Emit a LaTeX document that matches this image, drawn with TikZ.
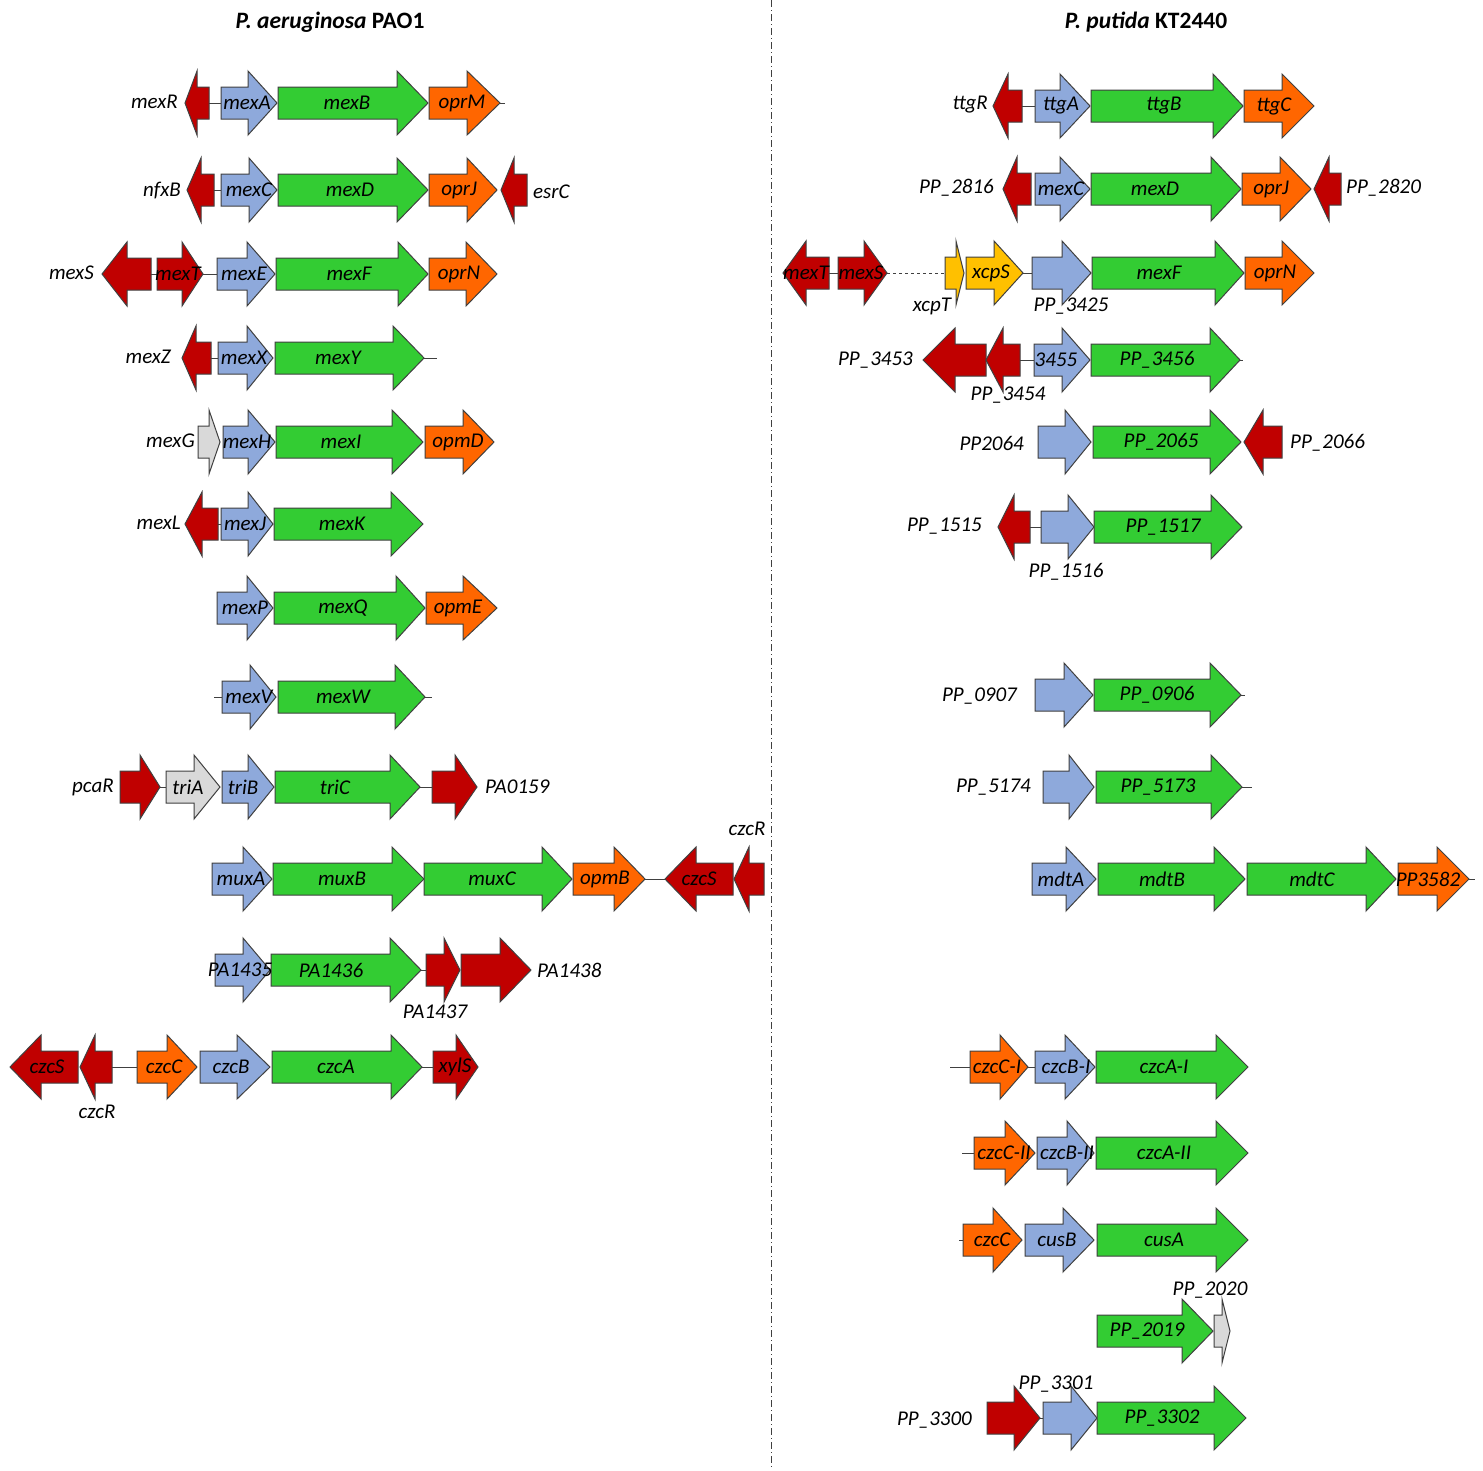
\documentclass[tikz,border=0pt]{standalone}
\usepackage{fontspec}
\setmainfont{Carlito}
\definecolor{gred}{HTML}{C00000}
\definecolor{gblue}{HTML}{8EA9DB}
\definecolor{ggreen}{HTML}{33CC33}
\definecolor{gorange}{HTML}{FF6600}
\definecolor{ggray}{HTML}{D9D9D9}
\definecolor{gyellow}{HTML}{FFC000}
\definecolor{edgec}{HTML}{404040}
\pgfdeclarelayer{fg}
\pgfsetlayers{main,fg}
\tikzset{
  genebox/.style={draw=edgec, line width=1pt, line join=miter},
  glabel/.style={font=\fontsize{21}{25}\selectfont\itshape, inner sep=0pt, text=black},
  link/.style={draw=edgec, line width=1pt},
  titlelbl/.style={font=\fontsize{23.5}{27}\selectfont\bfseries, inner sep=0pt},
  divider/.style={draw=edgec, line width=0.8pt, dash pattern=on 7pt off 3pt on 1pt off 3pt},
}
% shape only: tail, head base, tip, y, colour
\newcommand\gs[5]{%
  \filldraw[genebox, fill=#5] (#1,#4-16) -- (#2,#4-16) -- (#2,#4-32) -- (#3,#4) -- (#2,#4+32) -- (#2,#4+16) -- (#1,#4+16) -- cycle;}
% shape with inside label: id, tail, base, tip, y, colour, label x, label
\newcommand\gn[8]{%
  \gs{#2}{#3}{#4}{#5}{#6}%
  \begin{pgfonlayer}{fg}\node[glabel] (#1) at (#7,#5) {#8};\end{pgfonlayer}}
\begin{document}
\begin{tikzpicture}[x=1pt,y=-1pt]
\useasboundingbox (0,0) rectangle (1483,1470);
\fill[white] (0,0) rectangle (1483,1470);

% titles and divider
\node[titlelbl] (t1) at (330,22) {\textit{P. aeruginosa} PAO1};
\node[titlelbl] (t2) at (1146,22) {\textit{P. putida} KT2440};
\draw[divider] (771,0) -- (771,1470);

% ---------------- left side ----------------
% row 1
\draw[link] (209,103) -- (221,103); \draw[link] (500,103) -- (505,103);
\gs{209}{197}{185}{103}{gred}
\gn{mexA}{221}{248}{277}{103}{gblue}{247}{mexA}
\gn{mexB}{278}{397}{428}{103}{ggreen}{347}{mexB}
\gn{oprM}{429}{467}{500}{103}{gorange}{462}{oprM}
\node[glabel,anchor=east] (lmexR) at (178,102) {mexR};

% row 2
\draw[link] (214,190) -- (221,190);
\gs{214}{201}{187}{190}{gred}
\gn{mexC}{221}{249}{277}{190}{gblue}{249}{mexC}
\gn{mexD}{278}{397}{428}{190}{ggreen}{350}{mexD}
\gn{oprJ}{429}{467}{497}{190}{gorange}{459}{oprJ}
\gs{527}{514}{501}{190}{gred}
\node[glabel,anchor=east] (lnfxB) at (181,191) {nfxB};
\node[glabel,anchor=west] (lesrC) at (533,192) {esrC};

% row 3
\draw[link] (151,274) -- (157,274); \draw[link] (203,274) -- (217,274);
\gs{151}{127}{102}{274}{gred}
\gn{mexT}{157}{182}{203}{274}{gred}{178}{mexT}
\gn{mexE}{217}{247}{275}{274}{gblue}{244}{mexE}
\gn{mexF}{276}{398}{428}{274}{ggreen}{349}{mexF}
\gn{oprN}{429}{466}{497}{274}{gorange}{459}{oprN}
\node[glabel,anchor=east] (lmexS) at (94,273) {mexS};

% row 4
\draw[link] (211,358) -- (218,358); \draw[link] (424,358) -- (437,358);
\gs{211}{196}{182}{358}{gred}
\gn{mexX}{218}{247}{273}{358}{gblue}{244}{mexX}
\gn{mexY}{275}{393}{424}{358}{ggreen}{338}{mexY}
\node[glabel,anchor=east] (lmexZ) at (171,357) {mexZ};

% row 5
\gs{198}{209}{220}{442}{ggray}
\gn{mexH}{223}{248}{275}{442}{gblue}{247}{mexH}
\gn{mexI}{276}{392}{423}{442}{ggreen}{341}{mexI}
\gn{opmD}{425}{463}{494}{442}{gorange}{458}{opmD}
\node[glabel,anchor=east] (lmexG) at (195,441) {mexG};

% row 6
\draw[link] (218,524) -- (221,524);
\gs{218}{202}{185}{524}{gred}
\gn{mexJ}{221}{248}{273}{524}{gblue}{245}{mexJ}
\gn{mexK}{274}{391}{423}{524}{ggreen}{342}{mexK}
\node[glabel,anchor=east] (lmexL) at (181,523) {mexL};

% row 7
\gn{mexP}{217}{247}{273}{608}{gblue}{245}{mexP}
\gn{mexQ}{274}{396}{425}{608}{ggreen}{343}{mexQ}
\gn{opmE}{426}{463}{497}{608}{gorange}{458}{opmE}

% row 8
\draw[link] (214,697) -- (222,697); \draw[link] (425,697) -- (432,697);
\gn{mexV}{222}{250}{276}{697}{gblue}{249}{mexV}
\gn{mexW}{278}{395}{425}{697}{ggreen}{343}{mexW}

% row 9
\draw[link] (160,787) -- (166,787); \draw[link] (420,787) -- (432,787);
\gs{120}{140}{160}{787}{gred}
\gn{triA}{166}{194}{220}{787}{ggray}{188}{triA}
\gn{triB}{222}{248}{274}{787}{gblue}{243}{triB}
\gn{triC}{275}{390}{420}{787}{ggreen}{335}{triC}
\gs{432}{455}{477}{787}{gred}
\node[glabel,anchor=east] (lpcaR) at (114,787) {pcaR};
\node[glabel,anchor=west] (lPA0159) at (485,787) {PA0159};

% row 10
\draw[link] (645,879) -- (665,879);
\gn{muxA}{212}{243}{272}{879}{gblue}{241}{muxA}
\gn{muxB}{273}{392}{424}{879}{ggreen}{342}{muxB}
\gn{muxC}{424}{542}{572}{879}{ggreen}{492}{muxC}
\gn{opmB}{573}{614}{645}{879}{gorange}{605}{opmB}
\gn{czcSa}{733}{696}{665}{879}{gred}{699}{czcS}
\gs{764}{749}{734}{879}{gred}
\node[glabel] (lczcRa) at (747,829) {czcR};

% row 11
\draw[link] (421,970) -- (426,970);
\gn{PAa}{215}{243}{270}{970}{gblue}{240}{PA1435}
\gn{PAb}{271}{390}{421}{970}{ggreen}{331}{PA1436}
\gs{426}{444}{460}{970}{gred}
\gs{461}{500}{531}{970}{gred}
\node[glabel] (lPA1437) at (435,1012) {PA1437};
\node[glabel,anchor=west] (lPA1438) at (537,970) {PA1438};

% row 12
\draw[link] (112,1067) -- (137,1067); \draw[link] (422,1067) -- (433,1067);
\gn{czcSb}{78}{41}{10}{1067}{gred}{47}{czcS}
\gs{112}{95}{80}{1067}{gred}
\gn{czcC}{137}{167}{197}{1067}{gorange}{164}{czcC}
\gn{czcB}{200}{237}{270}{1067}{gblue}{231}{czcB}
\gn{czcA}{272}{391}{422}{1067}{ggreen}{336}{czcA}
\gn{xylS}{433}{456}{478}{1067}{gred}{455}{xylS}
\node[glabel] (lczcRb) at (97,1112) {czcR};

% ---------------- right side ----------------
% R1
\draw[link] (1022,106) -- (1035,106);
\gs{1022}{1008}{993}{106}{gred}
\gn{ttgA}{1035}{1060}{1090}{106}{gblue}{1061}{ttgA}
\gn{ttgB}{1091}{1213}{1243}{106}{ggreen}{1164}{ttgB}
\gn{ttgC}{1244}{1282}{1314}{106}{gorange}{1274}{ttgC}
\node[glabel,anchor=east] (lttgR) at (988,105) {ttgR};

% R2
\gs{1031}{1017}{1003}{189}{gred}
\gn{mexCp}{1035}{1060}{1090}{189}{gblue}{1061}{mexC}
\gn{mexDp}{1091}{1211}{1241}{189}{ggreen}{1155}{mexD}
\gn{oprJp}{1242}{1280}{1311}{189}{gorange}{1271}{oprJ}
\gs{1341}{1329}{1314}{189}{gred}
\node[glabel,anchor=east] (lPP2816) at (994,188) {PP\_2816};
\node[glabel,anchor=west] (lPP2820) at (1346,188) {PP\_2820};

% R3
\draw[link] (829,273) -- (838,273);
\draw[link,dashed] (887,273) -- (945,273);
\draw[link] (1023,273) -- (1032,273);
\gn{mexTp}{829}{806}{783}{273}{gred}{806}{mexT}
\gn{mexSp}{838}{864}{887}{273}{gred}{861}{mexS}
\gs{945}{956}{964}{273}{gyellow}
\gn{xcpS}{966}{994}{1023}{273}{gyellow}{991}{xcpS}
\gs{1032}{1062}{1091}{273}{gblue}
\gn{mexFp}{1092}{1215}{1244}{273}{ggreen}{1159}{mexF}
\gn{oprNp}{1245}{1282}{1314}{273}{gorange}{1275}{oprN}
\node[glabel] (lxcpT) at (932,306) {xcpT};
\node[glabel] (lPP3425) at (1071,306) {PP\_3425};

% R4
\draw[link] (1020,360) -- (1034,360); \draw[link] (1240,360) -- (1243,360);
\gs{986}{955}{923}{360}{gred}
\gs{1020}{1003}{986}{360}{gred}
\gn{PPc}{1034}{1062}{1090}{360}{gblue}{1056}{3455}
\gn{PPd}{1091}{1210}{1240}{360}{ggreen}{1157}{PP\_3456}
\node[glabel,anchor=east] (lPP3453) at (913,360) {PP\_3453};
\node[glabel] (lPP3454) at (1008,395) {PP\_3454};

% R5
\gs{1038}{1065}{1091}{442}{gblue}
\gn{PPe}{1093}{1210}{1241}{442}{ggreen}{1161}{PP\_2065}
\gs{1282}{1263}{1244}{442}{gred}
\node[glabel,anchor=east] (lPP2064) at (1024,443) {PP2064};
\node[glabel,anchor=west] (lPP2066) at (1290,443) {PP\_2066};

% R6
\draw[link] (1030,527) -- (1041,527);
\gs{1030}{1014}{998}{527}{gred}
\gs{1041}{1068}{1094}{527}{gblue}
\gn{PPf}{1094}{1211}{1242}{527}{ggreen}{1163}{PP\_1517}
\node[glabel,anchor=east] (lPP1515) at (982,526) {PP\_1515};
\node[glabel] (lPP1516) at (1066,572) {PP\_1516};

% R7
\draw[link] (1241,695) -- (1245,695);
\gs{1035}{1064}{1093}{695}{gblue}
\gn{PPg}{1094}{1210}{1241}{695}{ggreen}{1157}{PP\_0906}
\node[glabel,anchor=east] (lPP0907) at (1017,696) {PP\_0907};

% R8
\draw[link] (1242,787) -- (1252,787);
\gs{1043}{1069}{1094}{787}{gblue}
\gn{PPh}{1096}{1211}{1242}{787}{ggreen}{1158}{PP\_5173}
\node[glabel,anchor=east] (lPP5174) at (1031,787) {PP\_5174};

% R9
\draw[link] (1469,879) -- (1475,879);
\gn{mdtA}{1032}{1066}{1096}{879}{gblue}{1061}{mdtA}
\gn{mdtB}{1098}{1214}{1245}{879}{ggreen}{1162}{mdtB}
\gn{mdtC}{1247}{1366}{1396}{879}{ggreen}{1312}{mdtC}
\gn{PPi}{1398}{1437}{1469}{879}{gorange}{1428}{PP3582}

% R10
\draw[link] (950,1067) -- (970,1067); \draw[link] (1028,1067) -- (1035,1067);
\gn{czcCI}{970}{1000}{1028}{1067}{gorange}{997}{czcC-I}
\gn{czcBI}{1035}{1065}{1095}{1067}{gblue}{1066}{czcB-I}
\gn{czcAI}{1096}{1216}{1248}{1067}{ggreen}{1164}{czcA-I}

% R11
\draw[link] (962,1153) -- (974,1153);
\gn{czcCII}{974}{1005}{1035}{1153}{gorange}{1004}{czcC-II}
\gn{czcBII}{1037}{1067}{1094}{1153}{gblue}{1067}{czcB-II}
\gn{czcAII}{1096}{1216}{1248}{1153}{ggreen}{1164}{czcA-II}

% R12
\draw[link] (959,1240) -- (963,1240);
\gn{czcCp}{963}{993}{1022}{1240}{gorange}{992}{czcC}
\gn{cusB}{1025}{1063}{1094}{1240}{gblue}{1057}{cusB}
\gn{cusA}{1097}{1216}{1248}{1240}{ggreen}{1164}{cusA}

% R13
\gn{PPj}{1097}{1182}{1213}{1331}{ggreen}{1147}{PP\_2019}
\gs{1214}{1222}{1230}{1331}{ggray}
\node[glabel] (lPP2020) at (1210,1290) {PP\_2020};

% R14
\draw[link] (1040,1418) -- (1043,1418);
\gs{987}{1014}{1040}{1418}{gred}
\gs{1043}{1071}{1097}{1418}{gblue}
\gn{PPk}{1097}{1214}{1246}{1418}{ggreen}{1162}{PP\_3302}
\node[glabel,anchor=east] (lPP3300) at (972,1420) {PP\_3300};
\node[glabel] (lPP3301) at (1056,1384) {PP\_3301};
\end{tikzpicture}
\end{document}
